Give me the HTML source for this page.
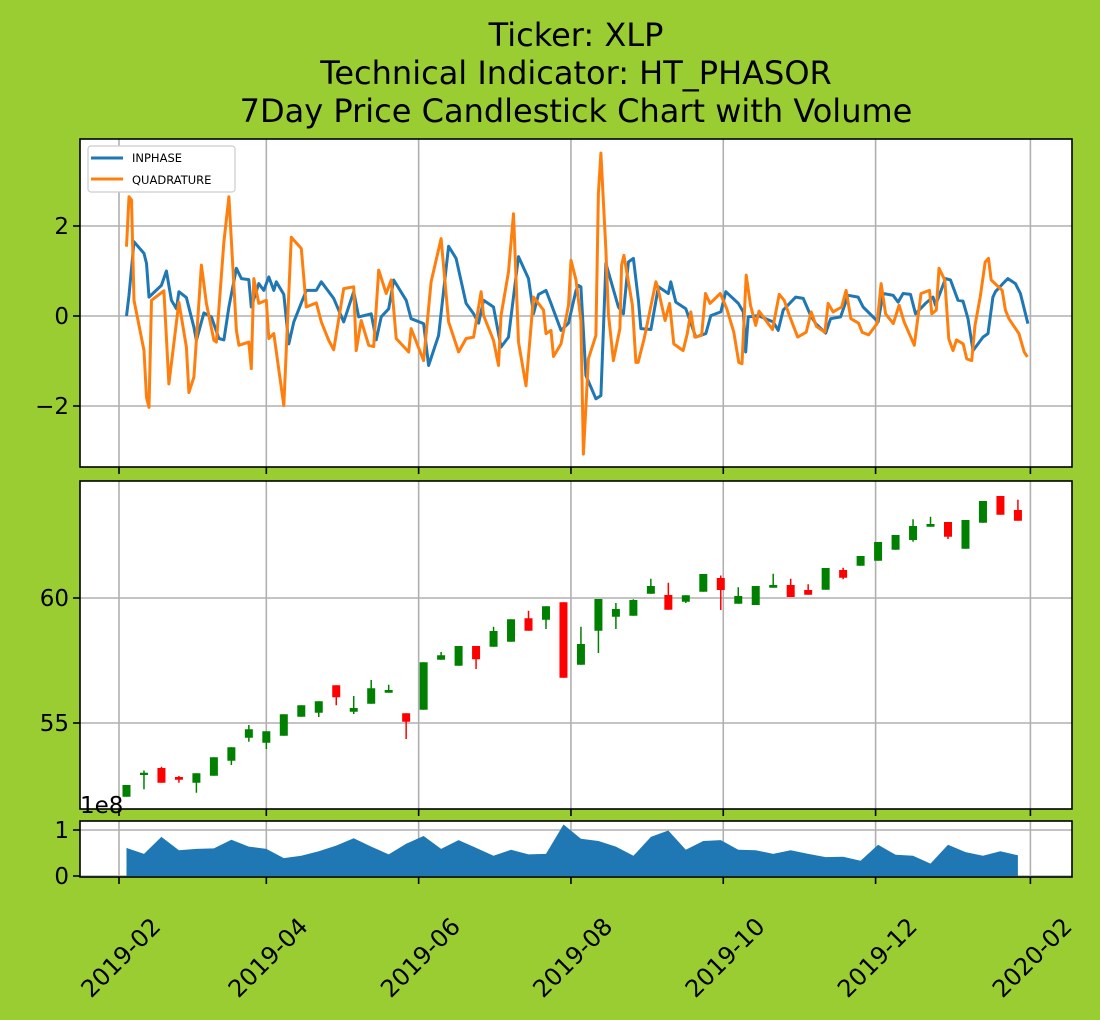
<!DOCTYPE html>
<html><head><meta charset="utf-8"><style>
html,body{margin:0;padding:0;background:#9acd32;}
svg{display:block;font-family:"DejaVu Sans","Liberation Sans",sans-serif;}
</style></head><body>
<svg id="chart" width="1100" height="1020" viewBox="0 0 1100 1020">
<rect width="1100" height="1020" fill="#9acd32"/>
<g font-size="32" text-anchor="middle" fill="#000">
<text x="576" y="46">Ticker: XLP</text>
<text x="576" y="84">Technical Indicator: HT_PHASOR</text>
<text x="576" y="122">7Day Price Candlestick Chart with Volume</text>
</g>
</svg>
<script>
const inDays=[3,4,6,10,11,12,17,19,21,23,24,27,30,31,34,37,40,42,44,47,49,52,53,56,58,60,62,63,66,68,70,75,79,81,86,90,94,96,101,103,105,108,110,115,117,122,124,128,132,135,139,142,144,146,150,153,156,160,164,166,168,171,173,177,180,183,184,185,187,191,193,195,200,202,204,206,208,209,213,216,220,221,223,227,231,235,237,241,243,248,250,251,252,256,262,264,266,271,274,277,279,283,285,289,292,296,298,304,306,310,312,314,317,319,323,326,327,331,333,336,338,340,342,346,348,350,351,354,356,359,361,364];
const inphase=[0,.46,1.65,1.39,1.17,.42,.68,1.0,.35,.16,.54,.41,-.25,-.54,.07,-.02,-.5,-.53,.2,1.06,.83,.81,.2,.72,.57,.87,.57,.76,.48,-.62,-.13,.57,.57,.76,.39,-.13,.54,-.02,.05,-.53,-.02,.16,.8,.35,-.06,-.17,-1.1,-.43,1.55,1.28,.28,.05,-.16,.35,.2,-.69,-.47,1.32,.83,.05,.48,.57,.28,-.32,-.16,.57,.68,.65,-1.32,-1.84,-1.77,1.17,.2,.05,1.2,1.28,.35,-.28,-.3,.65,.5,.76,.31,.16,-.47,-.39,.01,.09,.54,.28,.09,-.8,-.02,.01,-.13,-.32,.13,.42,.39,.01,-.17,-.38,-.06,-.02,.46,.42,.2,-.13,.5,.46,.31,.5,.48,.05,.28,.42,.24,.83,.8,.35,.33,-.06,-.77,-.47,-.39,.42,.54,.72,.83,.72,.5,-.17];
const quDays=[3,4,5,6,10,11,12,13,18,20,24,27,28,30,33,35,38,39,42,44,47,48,52,53,54,56,59,60,62,66,69,73,75,79,81,84,86,90,94,95,97,100,102,104,107,109,111,116,117,122,125,129,132,136,139,142,145,146,150,152,153,156,158,160,163,166,170,171,173,174,177,180,181,183,185,186,188,191,192,193,195,196,198,200.6,201.3,202.2,205.6,207,207.9,210.3,215,215.7,218.7,220.5,222.2,225.9,227.6,229,230.6,233.3,234.9,236.7,240.8,243.4,246.2,248.2,249.5,251.2,252.9,255,256.3,261.7,264.4,266.4,268.5,271.8,275.2,277.2,279.3,282.7,284,286,289.4,291.2,293.1,296.2,297.6,300.2,303.6,305.2,307,310.1,312.4,314.4,318.5,321.2,324.6,325.5,327.3,328.4,330.7,332.3,334,335.4,338.1,339.5,341.5,342.8,344.9,346.9,348.2,349.3,353.7,355,356.4,360.4,362.5,363.8];
const quadrature=[1.54,2.65,2.58,.35,-.77,-1.81,-2.03,.35,.56,-1.51,.31,-.69,-1.7,-1.36,1.13,.28,-.54,-.58,1.65,2.65,-.32,-.65,-.58,-1.17,.83,.28,.35,-.5,-.39,-1.99,1.75,1.5,.2,.29,-.13,-.54,-.75,.61,.65,-.77,-.1,-.65,-.68,1.02,.5,.8,-.5,-.8,-.28,-.99,.76,1.72,-.13,-.8,-.5,-.47,.54,.01,-.54,-1.1,.01,.98,2.27,-.58,-1.55,.42,.13,-.39,-.32,-.9,-.62,.24,1.24,.8,-.1,-3.07,-.95,-.43,2.73,3.62,1.46,.05,-.99,-.28,1.13,1.35,.24,-1.03,-1.03,-.51,.76,.65,-.1,.28,-.62,-.77,-.39,.09,-.47,-.43,.5,.28,.5,.16,-.36,-1.03,-1.06,.91,.24,-.21,.11,-.3,.48,.35,.01,-.47,-.36,.09,-.23,-.36,.28,.09,.2,.57,-.06,-.16,-.36,-.42,-.17,.72,.05,-.17,.24,-.13,-.65,.5,.57,.05,.13,1.06,.8,-.51,-.77,-.53,-.62,-.95,-.99,-.21,.42,1.2,1.28,.8,.57,.13,-.06,-.39,-.8,-.91];
const opens=[52.05,52.92,53.2,52.84,52.61,52.89,53.49,54.41,54.21,54.49,55.25,55.41,56.51,55.45,55.77,56.21,55.39,55.53,57.53,57.29,58.08,58.05,58.25,59.19,59.13,59.83,57.33,58.69,59.25,59.29,60.17,60.12,59.85,60.25,60.8,59.77,59.72,60.41,60.52,60.32,60.33,61.12,61.29,61.49,61.93,62.32,62.85,63.04,61.97,63.01,64.08,63.52];
const closes=[52.52,53.01,52.61,52.73,52.99,53.63,54.03,54.75,54.67,55.35,55.71,55.87,56.03,55.6,56.39,56.32,55.05,57.43,57.71,58.08,57.55,58.68,59.15,58.69,59.67,56.81,58.16,59.96,59.56,59.92,60.48,59.53,60.11,60.96,60.32,60.08,60.48,60.52,60.04,60.13,61.2,60.81,61.68,62.24,62.52,62.88,62.96,62.45,63.12,63.88,63.33,63.09];
const highs=[52.52,53.10,53.25,52.88,52.99,53.63,54.03,54.92,54.67,55.35,55.71,55.87,56.51,56.08,56.72,56.53,55.39,57.43,57.84,58.08,58.08,58.85,59.15,59.49,59.67,59.83,58.85,59.96,59.8,59.95,60.77,60.61,60.11,60.96,60.9,60.43,60.48,60.97,60.77,60.55,61.2,61.21,61.68,62.24,62.52,63.15,63.25,63.04,63.12,63.88,64.08,63.93];
const lows=[52.05,52.35,52.61,52.61,52.21,52.89,53.32,54.25,53.96,54.49,55.25,55.24,55.71,55.36,55.77,56.21,54.36,55.53,57.53,57.29,57.16,58.05,58.25,58.69,58.76,56.81,57.33,57.8,58.76,59.29,60.17,59.53,59.8,60.25,59.52,59.77,59.72,60.41,60.04,60.13,60.33,60.75,61.29,61.49,61.93,62.25,62.85,62.36,61.97,63.01,63.33,63.09];
const volumes=[.61,.48,.85,.56,.59,.60,.79,.64,.59,.39,.44,.54,.66,.82,.64,.47,.70,.87,.59,.78,.61,.44,.57,.47,.48,1.12,.81,.76,.64,.44,.85,.99,.57,.76,.78,.57,.56,.48,.56,.48,.41,.42,.33,.68,.46,.44,.27,.68,.52,.44,.54,.45];
const firstCandleDay=3, candleStep=7;
const xTickDays=[0,59,120,181,242,303,365];
const xTickLabels=['2019-02','2019-04','2019-06','2019-08','2019-10','2019-12','2020-02'];
const y1Ticks=[-2,0,2], y1Labels=['−2','0','2'];
const y2Ticks=[55,60], y2Labels=['55','60'];
const y3Ticks=[0,1], y3Labels=['0','1'];

const NS='http://www.w3.org/2000/svg';
const svg=document.getElementById('chart');
function mk(tag,attrs,parent){const e=document.createElementNS(NS,tag);for(const k in attrs)e.setAttribute(k,attrs[k]);(parent||svg).appendChild(e);return e;}
const L=80,R=1072;
const xs=d=>119+d*2.497;
const P1={t:139,b:467}, P2={t:481,b:809}, P3={t:821,b:877};
const y1=v=>316-v*45, y2=v=>598-(v-60)*25, y3=v=>876-v*46;

function panel(P,name,yt,yl,yf){
  const g=mk('g',{});
  
  
  mk('rect',{x:L,y:P.t,width:R-L,height:P.b-P.t,fill:'#fff'},g);
  xTickDays.forEach(d=>{const l=mk('line',{x1:xs(d),x2:xs(d),y1:P.t,y2:P.b,stroke:'#b0b0b0','stroke-width':1.6},g);
    
    mk('line',{x1:xs(d),x2:xs(d),y1:P.b,y2:P.b+7,stroke:'#000','stroke-width':1.6},g);});
  yt.forEach((v,i)=>{const y=yf(v);
    const l=mk('line',{x1:L,x2:R,y1:y,y2:y,stroke:'#b0b0b0','stroke-width':1.6},g);
    
    mk('line',{x1:L-7,x2:L,y1:y,y2:y,stroke:'#000','stroke-width':1.6},g);
    const t=mk('text',{x:L-11,y:y+8,'text-anchor':'end','font-size':23},g);t.textContent=yl[i];
    });
  return g;
}
const g1=panel(P1,'indicator-panel',y1Ticks,y1Labels,y1);
const g2=panel(P2,'price-panel',y2Ticks,y2Labels,y2);
const g3=panel(P3,'volume-panel',y3Ticks,y3Labels,y3);

function line(days,vals,color,name){
  const n=Math.min(days.length,vals.length);let d='';
  for(let i=0;i<n;i++)d+=(i?'L':'M')+xs(days[i]).toFixed(1)+','+y1(vals[i]).toFixed(1);
  const p=mk('path',{d:d,fill:'none',stroke:color,'stroke-width':3,'stroke-linejoin':'round'},g1);
  
}
line(inDays,inphase,'#1f77b4','inphase-line');
line(quDays,quadrature,'#ff7f0e','quadrature-line');

const lg=mk('g',{},g1);

mk('rect',{x:88,y:146,width:147,height:46,rx:3,fill:'#fff',stroke:'#ccc','stroke-width':1.2},lg);
mk('line',{x1:91,x2:123,y1:158,y2:158,stroke:'#1f77b4','stroke-width':3},lg);
mk('line',{x1:91,x2:123,y1:179,y2:179,stroke:'#ff7f0e','stroke-width':3},lg);
let lt=mk('text',{x:132,y:162,'font-size':11.5},lg);lt.textContent='INPHASE';

lt=mk('text',{x:132,y:184,'font-size':11.5},lg);lt.textContent='QUADRATURE';


for(let i=0;i<opens.length;i++){
  const day=firstCandleDay+i*candleStep, cx=xs(day);
  const up=closes[i]>=opens[i], col=up?'#008000':'#ff0000';
  const w=mk('line',{x1:cx,x2:cx,y1:y2(highs[i]),y2:y2(lows[i]),stroke:col,'stroke-width':1.5},g2);
  
  const top=y2(Math.max(opens[i],closes[i])),bot=y2(Math.min(opens[i],closes[i]));
  const b=mk('rect',{x:cx-4,y:top,width:8,height:Math.max(bot-top,1.5),fill:col},g2);
  
}
{let d='M'+xs(firstCandleDay)+','+y3(0);
 volumes.forEach((v,i)=>{d+='L'+xs(firstCandleDay+i*candleStep).toFixed(1)+','+y3(v).toFixed(1);});
 d+='L'+xs(firstCandleDay+(volumes.length-1)*candleStep).toFixed(1)+','+y3(0)+'Z';
 const p=mk('path',{d:d,fill:'#1f77b4'},g3);
 }
const oe=mk('text',{x:80,y:813,'font-size':23});oe.textContent='1e8';


[P1,P2,P3].forEach(P=>{const r=mk('rect',{x:L,y:P.t,width:R-L,height:P.b-P.t,fill:'none',stroke:'#000','stroke-width':1.6});
 });
xTickDays.forEach((d,i)=>{const x=xs(d)+43,y=928;
  const t=mk('text',{x:x,y:y,'text-anchor':'end','font-size':24,transform:`rotate(-45 ${x} ${y})`});
  t.textContent=xTickLabels[i];
  });
</script>
</body></html>
